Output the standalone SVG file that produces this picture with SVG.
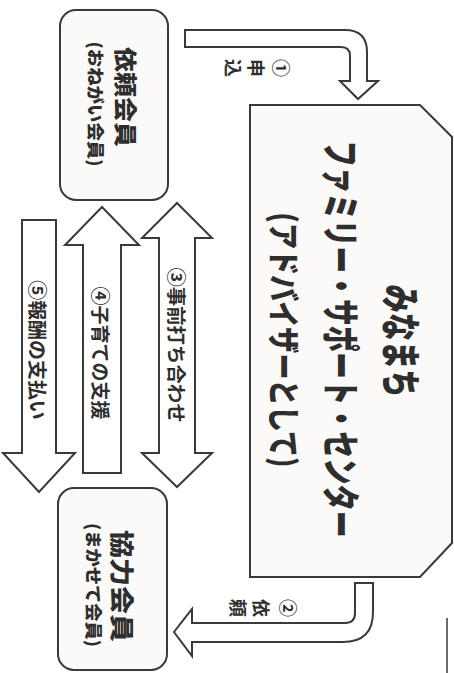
<svg xmlns="http://www.w3.org/2000/svg" width="454" height="673" viewBox="0 0 454 673">
<style>
.box{fill:#fbfaf8;stroke:#3a3a3a;stroke-width:2}
.arr{fill:#ffffff;stroke:#3a3a3a;stroke-width:2;stroke-linejoin:miter}
.t{font-family:"Noto Sans CJK JP","Noto Sans",sans-serif;fill:#2e2e2e;text-anchor:middle;dominant-baseline:central}
.b{font-weight:900}
.r{font-weight:600}
</style>
<rect width="454" height="673" fill="#ffffff"/>
<g id="connectors">
<path class="arr" d="M185,30 H345 Q367,30 367,52 V81 H378 L358,99 L340,81 H350 V56 Q350,47 341,47 H185 Z"/>
<path class="arr" d="M355,583 H373 V612 Q373,642 343,642 H192 V656 L174,632 L192,609 V623 H345 Q355,623 355,613 Z"/>
<path class="arr" d="M177,203 L212,238 H195 V453 H212 L177,487 L142,453 H159 V238 H142 Z"/>
<path class="arr" d="M102,207 L139,245 H121 V473 H83 V245 H65 Z"/>
<path class="arr" d="M22,220 H56 V453 H75 L39,492 L3,453 H22 Z"/>
<g class="t r" font-size="18">
<text transform="translate(282,68) rotate(90)">①</text>
<text transform="translate(257,68) rotate(90)">申</text>
<text transform="translate(234,68) rotate(90)">込</text>
<text transform="translate(289,608) rotate(90)">②</text>
<text transform="translate(262,608) rotate(90)">依</text>
<text transform="translate(239,608) rotate(90)">頼</text>
</g>
<text class="t r" font-size="19" transform="translate(177,345) rotate(90) scale(1.02,1)">③事前打ち合わせ</text>
<text class="t r" font-size="19" transform="translate(101,353) rotate(90)">④子育ての支援</text>
<text class="t r" font-size="19" transform="translate(38,350) rotate(90) scale(1.05,1)">⑤報酬の支払い</text>
</g>
<g id="irai">
<rect class="box" x="60" y="10" width="108" height="190" rx="16"/>
<text class="t b" font-size="23" transform="translate(127,97) rotate(90) scale(1.087,1)">依頼会員</text>
<text class="t b" font-size="17" transform="translate(96,104) rotate(90)" textLength="125" lengthAdjust="spacingAndGlyphs">(おねがい会員)</text>
</g>
<g id="center">
<path class="box" d="M250,105 H420 L452,137 V543 L420,577 H250 Z"/>
<text class="t b" font-size="40" transform="translate(403,341) rotate(90) scale(0.706,1)">みなまち</text>
<text class="t b" font-size="38" transform="translate(344,339) rotate(90) scale(0.6965,1)">ファミリー・サポート・センター</text>
<text class="t b" font-size="32" transform="translate(286,340) rotate(90)" textLength="255" lengthAdjust="spacingAndGlyphs">(アドバイザーとして)</text>
</g>
<g id="kyoryoku">
<rect class="box" x="58" y="488" width="109" height="182" rx="16"/>
<text class="t b" font-size="24" transform="translate(123,586) rotate(90) scale(1.167,1)">協力会員</text>
<text class="t b" font-size="17" transform="translate(94,585) rotate(90)" textLength="124" lengthAdjust="spacingAndGlyphs">(まかせて会員)</text>
</g>
<line x1="447" y1="618" x2="447" y2="673" stroke="#3a3a3a" stroke-width="1.5"/>
</svg>
